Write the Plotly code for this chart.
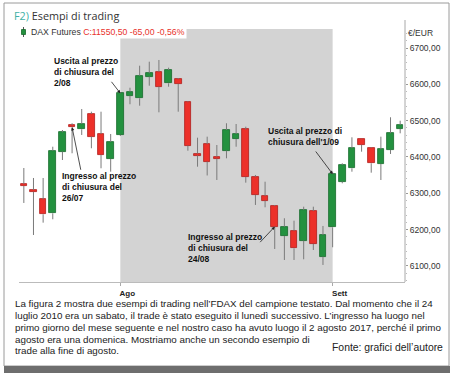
import plotly.graph_objects as go

dates = ["2017-07-19", "2017-07-20", "2017-07-21", "2017-07-24", "2017-07-25", "2017-07-26",
         "2017-07-27", "2017-07-28", "2017-07-31", "2017-08-01", "2017-08-02", "2017-08-03",
         "2017-08-04", "2017-08-07", "2017-08-08", "2017-08-09", "2017-08-10", "2017-08-11",
         "2017-08-14", "2017-08-15", "2017-08-16", "2017-08-17", "2017-08-18", "2017-08-21",
         "2017-08-22", "2017-08-23", "2017-08-24", "2017-08-25", "2017-08-28", "2017-08-29",
         "2017-08-30", "2017-08-31", "2017-09-01", "2017-09-04", "2017-09-05", "2017-09-06",
         "2017-09-07", "2017-09-08", "2017-09-11", "2017-09-12"]
opens = [6325.7, 6309.2, 6283.6, 6245.0, 6414.6, 6487.3, 6476.3, 6518.4, 6463.3, 6394.5,
         6460.6, 6568.7, 6561.6, 6621.0, 6634.8, 6602.9, 6614.7, 6550.6, 6409.6, 6435.2,
         6400.8, 6417.3, 6449.5, 6475.7, 6345.8, 6292.7, 6265.1, 6182.6, 6197.2, 6169.6,
         6251.4, 6125.6, 6206.5, 6332.0, 6368.9, 6448.7, 6425.6, 6380.7, 6419.3, 6477.1]
highs = [6369.7, 6342.2, 6342.2, 6428.3, 6474.3, 6492.8, 6532.1, 6524.7, 6524.7, 6463.3,
         6578.9, 6590.7, 6651.3, 6662.3, 6667.0, 6645.8, 6617.4, 6553.0, 6453.1, 6455.9,
         6433.0, 6492.8, 6490.8, 6483.4, 6350.5, 6332.0, 6267.9, 6231.3, 6224.7, 6263.2,
         6263.2, 6210.1, 6359.5, 6382.7, 6454.2, 6449.5, 6427.5, 6455.9, 6509.3, 6499.9]
lows = [6273.4, 6185.3, 6219.2, 6228.5, 6391.7, 6410.2, 6460.6, 6424.0, 6368.9, 6359.5,
        6457.8, 6545.1, 6541.2, 6596.2, 6523.0, 6593.5, 6524.7, 6417.3, 6373.3, 6349.1,
        6336.7, 6396.4, 6428.3, 6329.3, 6267.9, 6261.6, 6146.8, 6116.5, 6116.5, 6118.4,
        6144.0, 6102.8, 6151.5, 6327.6, 6359.5, 6414.6, 6356.8, 6336.7, 6408.3, 6465.2]
closes = [6320.2, 6303.7, 6242.3, 6417.3, 6468.0, 6481.8, 6490.8, 6455.9, 6405.5, 6441.3,
          6575.3, 6579.7, 6623.8, 6630.4, 6593.5, 6639.5, 6600.9, 6431.1, 6404.1, 6387.1,
          6395.3, 6474.3, 6463.3, 6345.0, 6295.4, 6279.7, 6208.2, 6208.2, 6148.7, 6254.1,
          6160.6, 6185.3, 6353.2, 6378.0, 6424.0, 6433.0, 6382.7, 6421.2, 6465.2, 6488.1]

y_ticks = [6100, 6200, 6300, 6400, 6500, 6600, 6700]
x_tick_dates = ["2017-08-02", "2017-09-01"]
x_tick_text = ["Ago", "Sett"]
shade_start, shade_end = "2017-08-02", "2017-09-01"

GREEN, GREEN_D = "#23913f", "#156a2b"
RED, RED_D = "#ec3029", "#b01d1a"

# wick segments (outside the bodies)
wx, wy = [], []
for d, o, h, l, c in zip(dates, opens, highs, lows, closes):
    lo_b, hi_b = min(o, c), max(o, c)
    wx += [d, d, None, d, d, None]
    wy += [l, lo_b, None, hi_b, h, None]

up = [c >= o for o, c in zip(opens, closes)]
fig = go.Figure()
fig.add_trace(go.Scatter(x=wx, y=wy, mode="lines", line=dict(color="#7a7a7a", width=1),
                         hoverinfo="skip", showlegend=False, connectgaps=False))
fig.add_trace(go.Bar(
    x=dates, y=[abs(c - o) for o, c in zip(opens, closes)],
    base=[min(o, c) for o, c in zip(opens, closes)], width=0.68,
    marker=dict(color=[GREEN if u else RED for u in up],
                line=dict(color=[GREEN_D if u else RED_D for u in up], width=0.8)),
    showlegend=False))

L_M, R_M, T_M, B_M = 19, 47, 29, 93
PW, PH = 452 - L_M - R_M, 375 - T_M - B_M
def px(x):
    return (x - L_M) / PW
def py(y):
    return (375 - B_M - y) / PH

shapes = [
    dict(type="rect", xref="x", yref="paper", x0=shade_start, x1=shade_end, y0=0, y1=1,
         fillcolor="#d3d3d3", line=dict(width=0), layer="below"),
    dict(type="line", xref="paper", yref="paper", x0=1, x1=1, y0=0, y1=py(20),
         line=dict(color="#a8a8a8", width=1)),
    dict(type="rect", xref="paper", yref="paper", x0=px(4), x1=px(449), y0=py(366), y1=py(3),
         line=dict(color="#9a9a9a", width=1), fillcolor="rgba(0,0,0,0)"),
    dict(type="rect", xref="paper", yref="paper", x0=px(4), x1=px(450), y0=py(373), y1=py(366),
         line=dict(width=0), fillcolor="#6e6e6e"),
    dict(type="rect", xref="paper", yref="paper", x0=px(21.5), x1=px(25.5), y0=py(34.5), y1=py(29.5),
         line=dict(color=GREEN_D, width=0.8), fillcolor=GREEN),
    dict(type="line", xref="paper", yref="paper", x0=px(23.5), x1=px(23.5), y0=py(37), y1=py(27),
         line=dict(color="#555", width=1), layer="below"),
]

note_font = dict(family="Liberation Sans, Arial", size=8.5, color="#111")
ann = []
def block(text, x, y):
    ann.append(dict(text=text, xref="paper", yref="paper", x=px(x), y=py(y), xanchor="left",
                    yanchor="middle", align="left", showarrow=False, font=note_font))
block("<b>Uscita al prezzo<br>di chiusura del<br>2/08</b>", 52, 72)
block("<b>Ingresso al prezzo<br>di chiusura del<br>26/07</b>", 60, 187)
block("<b>Ingresso al prezzo<br>di chiusura del<br>24/08</b>", 186, 248)
block("<b>Uscita al prezzo di<br>chiusura dell'1/09</b>", 266, 136)

def arrow(d, price, ax, ay):
    ann.append(dict(x=d, y=price, xref="x", yref="y", text="", showarrow=True, ax=ax, ay=ay,
                    arrowhead=2, arrowsize=0.8, arrowwidth=0.8, arrowcolor="#222", standoff=0))
arrow(dates[10], closes[10], -10, -13)
arrow(dates[5], closes[5], 9, 44)
arrow(dates[26], closes[26], -16, 17)
arrow(dates[32], closes[32], -18, -24)

ann.append(dict(text="<span style='color:#3fb1a6'>F2)</span> Esempi di trading", xref="paper", yref="paper",
                x=px(12), y=py(15), xanchor="left", yanchor="middle", showarrow=False,
                font=dict(family="Open Sans, Liberation Sans", size=10.8, color="#333")))
ann.append(dict(text="DAX Futures <span style='color:#e8332c'>C:11550,50 -65,00 -0,56%</span>",
                xref="paper", yref="paper", x=px(29), y=py(32), xanchor="left", yanchor="middle",
                showarrow=False, bgcolor="white", borderpad=1,
                font=dict(family="Liberation Sans, Arial", size=8.7, color="#333")))
ann.append(dict(text="€/EUR", xref="paper", yref="paper", x=px(406), y=py(33), xanchor="left",
                yanchor="middle", showarrow=False,
                font=dict(family="Liberation Sans, Arial", size=8.5, color="#333")))

cap_font = dict(family="Liberation Sans, Arial", size=9.8, color="#222")
caption = [
    ("La figura 2 mostra due esempi di trading nell’FDAX del campione testato. Dal momento che il 24", 303),
    ("luglio 2010 era un sabato, il trade è stato eseguito il lunedì successivo. L’ingresso ha luogo nel", 315),
    ("primo giorno del mese seguente e nel nostro caso ha avuto luogo il 2 agosto 2017, perché il primo", 327),
    ("agosto era una domenica. Mostriamo anche un secondo esempio di", 339),
    ("trade alla fine di agosto.", 350),
]
for t, y in caption:
    ann.append(dict(text=t, xref="paper", yref="paper", x=px(13), y=py(y), xanchor="left",
                    yanchor="middle", showarrow=False, font=cap_font))
ann.append(dict(text="Fonte: grafici dell’autore", xref="paper", yref="paper", x=px(445), y=py(347),
                xanchor="right", yanchor="middle", showarrow=False,
                font=dict(family="Liberation Sans, Arial", size=10.4, color="#222")))

fig.update_layout(
    width=452, height=375, margin=dict(l=L_M, r=R_M, t=T_M, b=B_M),
    paper_bgcolor="white", plot_bgcolor="white", separators=",.",
    shapes=shapes, annotations=ann, showlegend=False, bargap=0,
    xaxis=dict(type="category", categoryorder="array", categoryarray=dates,
               range=[-0.5, len(dates) - 0.5],
               tickvals=x_tick_dates, ticktext=x_tick_text, ticks="outside", ticklen=3,
               tickcolor="#aaa", ticklabelshift=7, showline=True, linecolor="#bbb",
               showgrid=False, zeroline=False, fixedrange=True,
               tickfont=dict(family="Liberation Sans, Arial", size=8, color="#222", weight="bold")),
    yaxis=dict(side="right", range=[6055.9, 6752.3], tickvals=y_ticks, tickformat=".2f",
               ticks="outside", ticklen=2, tickcolor="#999", showline=False, showgrid=False,
               zeroline=False, minor=dict(dtick=20, ticks="outside", ticklen=1, tickcolor="#bbb"),
               tickfont=dict(family="Liberation Sans, Arial", size=8.5, color="#333")),
)
fig.write_html("out.html", config={"displayModeBar": False},
               post_script="document.body.style.margin='0';document.body.style.overflow='hidden';")
